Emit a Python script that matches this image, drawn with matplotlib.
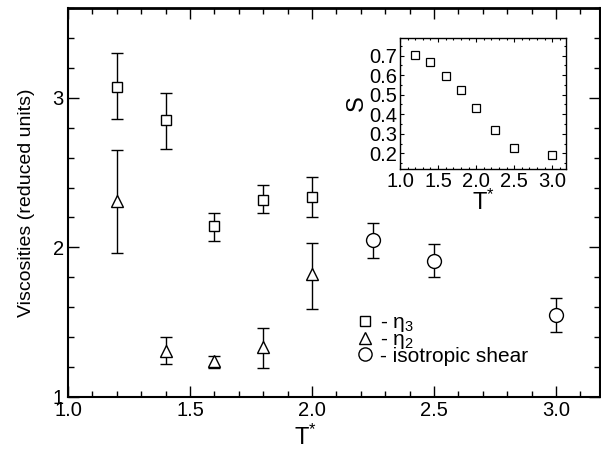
import matplotlib
matplotlib.use("Agg")
import matplotlib.pyplot as plt
from matplotlib.ticker import MultipleLocator
from matplotlib.lines import Line2D

plt.rcParams['font.family'] = ['Liberation Sans', 'DejaVu Sans']
plt.rcParams['mathtext.fontset'] = 'custom'
plt.rcParams['mathtext.rm'] = 'Liberation Sans'
plt.rcParams['mathtext.it'] = 'Liberation Sans:italic'

# eta_3 (squares)
t_eta3 = [1.2, 1.4, 1.6, 1.8, 2.0]
eta3 = [3.07, 2.85, 2.14, 2.32, 2.34]
eta3_lo = [0.21, 0.19, 0.095, 0.09, 0.14]
eta3_hi = [0.23, 0.18, 0.09, 0.10, 0.13]

# eta_2 (triangles)
t_eta2 = [1.2, 1.4, 1.6, 1.8, 2.0]
eta2 = [2.31, 1.31, 1.24, 1.335, 1.82]
eta2_lo = [0.345, 0.09, 0.045, 0.14, 0.23]
eta2_hi = [0.34, 0.09, 0.035, 0.125, 0.21]

# isotropic shear (circles)
t_iso = [2.25, 2.5, 3.0]
iso = [2.047, 1.91, 1.55]
iso_lo = [0.117, 0.11, 0.115]
iso_hi = [0.113, 0.11, 0.11]

# inset: order parameter S
t_s = [1.2, 1.4, 1.6, 1.8, 2.0, 2.25, 2.5, 3.0]
s_vals = [0.705, 0.665, 0.597, 0.522, 0.434, 0.318, 0.228, 0.19]

fig = plt.figure(figsize=(6.01, 4.5), dpi=100)
ax = fig.add_axes([68/601, 53/450, 532/601, 389/450])

ekw = dict(color='black', ecolor='black', elinewidth=1.0, capsize=4.5,
           capthick=1.0, linestyle='none', mfc='white', mec='black', mew=1.0)
ax.errorbar(t_eta3, eta3, yerr=[eta3_lo, eta3_hi], marker='s', ms=7.5, **ekw)
ax.errorbar(t_eta2, eta2, yerr=[eta2_lo, eta2_hi], marker='^', ms=8.5, **ekw)
ax.errorbar(t_iso, iso, yerr=[iso_lo, iso_hi], marker='o', ms=10, **ekw)

ax.set_xlim(1.0, 3.18)
ax.set_ylim(1.0, 3.6)
ax.xaxis.set_minor_locator(MultipleLocator(0.1))
ax.yaxis.set_minor_locator(MultipleLocator(0.2))
ax.set_xticks([1.0, 1.5, 2.0, 2.5, 3.0])
ax.set_xticklabels(['1.0', '1.5', '2.0', '2.5', '3.0'])
ax.set_yticks([1, 2, 3])
ax.set_yticklabels(['1', '2', '3'])
ax.tick_params(which='both', direction='in', top=True, right=True, labelsize=14.5, width=1.0)
ax.tick_params(which='major', length=8, pad=3)
ax.tick_params(which='minor', length=4)
for sp in ax.spines.values():
    sp.set_linewidth(1.5)
ax.spines['top'].set_linewidth(2.0)
fig.text(305/601, 1 - 437/450, 'T$^{*}$', fontsize=17, ha='center', va='center')
ax.set_ylabel('Viscosities (reduced units)', fontsize=14, labelpad=13)

handles = [Line2D([], [], marker='s', ms=7, ls='none', mfc='white', mec='black'),
           Line2D([], [], marker='^', ms=8, ls='none', mfc='white', mec='black'),
           Line2D([], [], marker='o', ms=9.5, ls='none', mfc='white', mec='black')]
labels = ['- η$_3$', '- η$_2$', '- isotropic shear']
leg = ax.legend(handles, labels, loc='upper left', bbox_to_anchor=(357/601, 1 - 313/450),
                bbox_transform=fig.transFigure, frameon=False, fontsize=15,
                handlelength=0.8, handletextpad=0.3, labelspacing=-0.2, borderpad=0, borderaxespad=0)

# inset
ins = fig.add_axes([400/601, (450 - 169)/450, 166/601, 131/450])
ins.plot(t_s, s_vals, marker='s', ms=5.5, ls='none', mfc='white', mec='black', mew=0.9)
ins.set_xlim(1.0, 3.18)
ins.set_ylim(0.12, 0.79)
ins.set_xticks([1.0, 1.5, 2.0, 2.5, 3.0])
ins.set_xticklabels(['1.0', '1.5', '2.0', '2.5', '3.0'])
ins.set_yticks([0.2, 0.3, 0.4, 0.5, 0.6, 0.7])
ins.set_yticklabels(['0.2', '0.3', '0.4', '0.5', '0.6', '0.7'])
ins.xaxis.set_minor_locator(MultipleLocator(0.1))
ins.yaxis.set_minor_locator(MultipleLocator(0.05))
ins.tick_params(which='both', direction='in', top=True, right=True, labelsize=14.5, width=0.8)
ins.tick_params(which='major', length=3, pad=2)
ins.tick_params(which='minor', length=1.5)
for sp in ins.spines.values():
    sp.set_linewidth(1.0)
ins.set_xlabel('T$^{*}$', fontsize=17, labelpad=-1)
ins.set_ylabel('S', fontsize=17, labelpad=1)

fig.savefig('out.png', dpi=100)
